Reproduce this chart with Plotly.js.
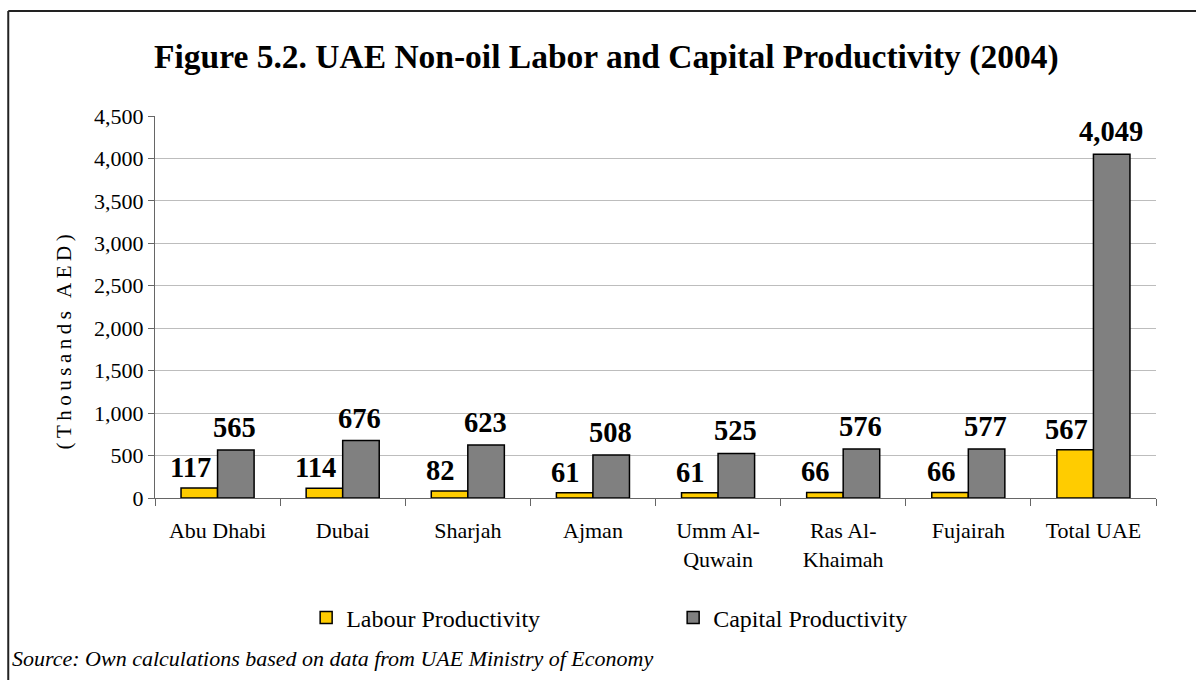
<!DOCTYPE html>
<html>
<head>
<meta charset="utf-8">
<script src="https://cdn.plot.ly/plotly-3.0.1.min.js"></script>
<style>
  html, body { margin: 0; padding: 0; background: #fff; }
  #chart { width: 1196px; height: 680px; }
  .annotation[data-index="1"] text { letter-spacing: 4.5px; }
</style>
</head>
<body>
<div id="chart"></div>
<script>
// ---- data ----
const categories = ["Abu Dhabi", "Dubai", "Sharjah", "Ajman", "Umm Al-<br>Quwain", "Ras Al-<br>Khaimah", "Fujairah", "Total UAE"];
const labourProductivity = [117, 114, 82, 61, 61, 66, 66, 567];
const capitalProductivity = [565, 676, 623, 508, 525, 576, 577, 4049];
const seriesNames = ["Labour Productivity", "Capital Productivity"];
const yTicks = [0, 500, 1000, 1500, 2000, 2500, 3000, 3500, 4000, 4500];

const FONT = "Liberation Serif";
const BARGAP = 0.416;
const half = (1 - BARGAP) / 4; // offset of each bar centre from category centre

const traces = [
  {
    type: "bar", name: seriesNames[0], x: categories, y: labourProductivity,
    marker: { color: "#FFCC00", line: { color: "#000", width: 1.5 } },
    hoverinfo: "x+y"
  },
  {
    type: "bar", name: seriesNames[1], x: categories, y: capitalProductivity,
    marker: { color: "#808080", line: { color: "#000", width: 1.5 } },
    hoverinfo: "x+y"
  }
];

const fmt = v => v.toLocaleString("en-US");
const annotations = [
  { // title
    text: "<b>Figure 5.2. UAE Non-oil Labor and Capital Productivity (2004)</b>",
    xref: "paper", yref: "paper", x: 0.451, y: 1.155, xanchor: "center", yanchor: "middle",
    showarrow: false, font: { family: FONT, size: 33.5, color: "#000" }
  },
  { // y title
    text: "(Thousands AED)", textangle: -90,
    xref: "paper", yref: "paper", x: -0.091, y: 0.414, xanchor: "center", yanchor: "middle",
    showarrow: false, font: { family: FONT, size: 21, color: "#000" }
  },
  { // source
    text: "<i>Source: Own calculations based on data from UAE Ministry of Economy</i>",
    xref: "paper", yref: "paper", x: -0.145, y: -0.419, xanchor: "left", yanchor: "middle",
    showarrow: false, font: { family: FONT, size: 22, color: "#000" }
  }
];
labourProductivity.forEach((v, i) => annotations.push({
  text: "<b>" + fmt(v) + "</b>", x: i - half, y: v, xref: "x", yref: "y",
  xanchor: "center", yanchor: "bottom", xshift: -9, yshift: 3, showarrow: false,
  font: { family: FONT, size: 28.5, color: "#000" }
}));
capitalProductivity.forEach((v, i) => annotations.push({
  text: "<b>" + fmt(v) + "</b>", x: i + half, y: v, xref: "x", yref: "y",
  xanchor: "center", yanchor: "bottom", xshift: -1, yshift: 5, showarrow: false,
  font: { family: FONT, size: 28.5, color: "#000" }
}));

const layout = {
  width: 1196, height: 680,
  margin: { l: 155, r: 40, t: 116, b: 182, pad: 0 },
  paper_bgcolor: "#fff", plot_bgcolor: "#fff",
  font: { family: FONT, size: 22, color: "#000" },
  barmode: "group", bargap: BARGAP, bargroupgap: 0,
  showlegend: true,
  legend: {
    orientation: "h", x: 0.151, xanchor: "left", y: -0.314, yanchor: "middle",
    font: { family: FONT, size: 24, color: "#000" }, entrywidth: 322, entrywidthmode: "pixels",
    bgcolor: "rgba(0,0,0,0)", traceorder: "normal"
  },
  xaxis: {
    type: "category", tickson: "boundaries", ticks: "outside", ticklen: 7, tickcolor: "#666", tickwidth: 1,
    showline: true, linecolor: "#666", linewidth: 1, showgrid: false, ticklabelstandoff: 13,
    tickfont: { family: FONT, size: 22, color: "#000" }, fixedrange: true
  },
  yaxis: {
    range: [0, 4500], tickvals: yTicks, ticktext: yTicks.map(fmt),
    ticks: "outside", ticklen: 6, tickcolor: "#666", tickwidth: 1,
    showline: true, linecolor: "#666", linewidth: 1,
    showgrid: true, gridcolor: "#bdbdbd", gridwidth: 1, zeroline: false,
    tickfont: { family: FONT, size: 22, color: "#000" }, fixedrange: true
  },
  shapes: [
    { type: "line", xref: "paper", yref: "paper", x0: -0.1466, x1: -0.1466, y0: -0.6, y1: 1.2749,
      line: { color: "#222", width: 2 } },
    { type: "line", xref: "paper", yref: "paper", x0: -0.1466, x1: 1.05, y0: 1.2749, y1: 1.2749,
      line: { color: "#222", width: 2 } }
  ],
  annotations: annotations
};

Plotly.newPlot("chart", traces, layout, { displayModeBar: false, staticPlot: true });
</script>
</body>
</html>
